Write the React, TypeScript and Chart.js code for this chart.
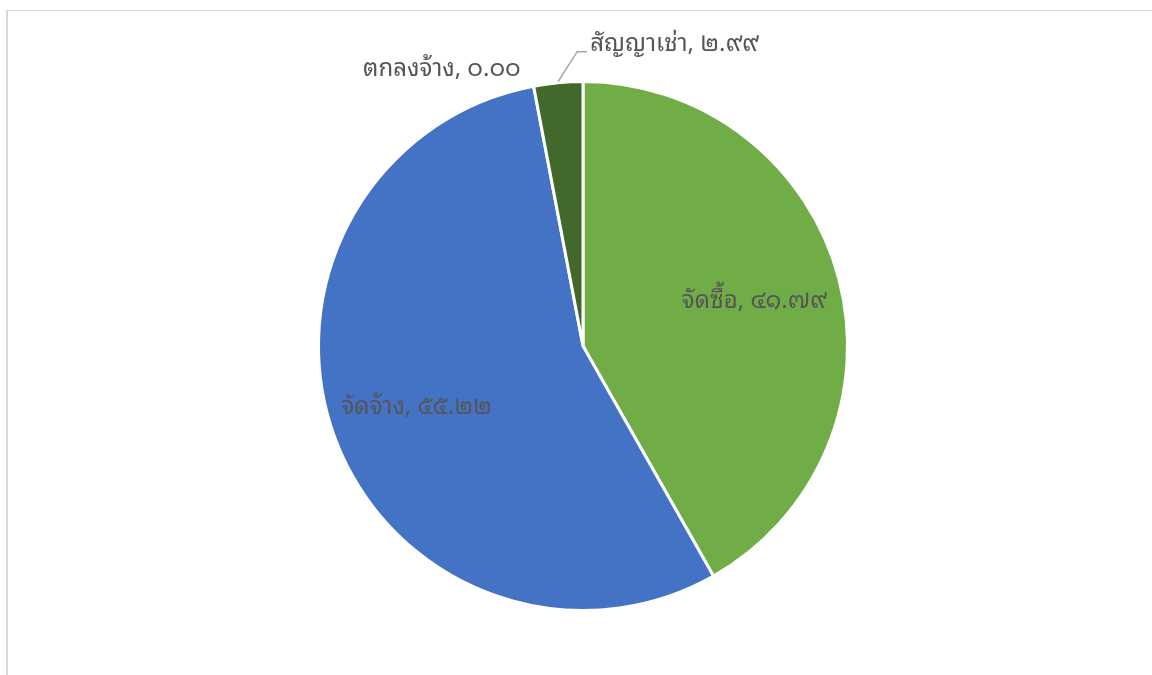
import React, { useEffect, useRef } from "react";
import { Chart, registerables } from "chart.js";

Chart.register(...registerables);

const categories = ["จัดซื้อ", "จัดจ้าง", "ตกลงจ้าง", "สัญญาเช่า"];
const values = [41.79, 55.22, 0.0, 2.99];
const colors = ["#70AD47", "#4472C4", "#A5A5A5", "#43682B"];

const thaiDigits = ["๐", "๑", "๒", "๓", "๔", "๕", "๖", "๗", "๘", "๙"];
const toThai = (v: number) => v.toFixed(2).replace(/[0-9]/g, (d) => thaiDigits[+d]);

const FONT =
  '24px "Noto Sans Thai Looped", Tahoma, Leelawadee, Loma, Garuda, "Noto Sans Thai", "Noto Sans", "DejaVu Sans", sans-serif';
const TEXT_COLOR = "#555555";

const labelPlugin = {
  id: "pieLabels",
  afterDatasetsDraw(chart: any) {
    const ctx = chart.ctx;
    const meta = chart.getDatasetMeta(0);
    ctx.save();
    ctx.font = FONT;
    ctx.fillStyle = TEXT_COLOR;
    meta.data.forEach((arc: any, i: number) => {
      const { x, y, startAngle, endAngle, outerRadius } = arc.getProps(
        ["x", "y", "startAngle", "endAngle", "outerRadius"],
        true
      );
      const mid = (startAngle + endAngle) / 2;
      const text = `${categories[i]}, ${toThai(values[i])}`;
      const frac = values[i] / values.reduce((a, b) => a + b, 0);
      if (frac > 0.1) {
        const r = outerRadius * 0.67;
        ctx.textAlign = "center";
        ctx.textBaseline = "middle";
        ctx.fillText(text, x + Math.cos(mid) * r, y + Math.sin(mid) * r);
      } else if (values[i] === 0) {
        const ex = x + Math.cos(mid) * outerRadius;
        const ey = y + Math.sin(mid) * outerRadius;
        ctx.textAlign = "right";
        ctx.textBaseline = "middle";
        ctx.fillText(text, ex - 13, ey - 17);
      } else {
        const ex = x + Math.cos(mid) * outerRadius;
        const ey = y + Math.sin(mid) * outerRadius;
        const bx = ex + 19;
        const by = ey - 31;
        ctx.strokeStyle = "#A6A6A6";
        ctx.lineWidth = 1.5;
        ctx.beginPath();
        ctx.moveTo(ex, ey - 1);
        ctx.lineTo(bx, by);
        ctx.lineTo(bx + 10, by);
        ctx.stroke();
        ctx.textAlign = "left";
        ctx.textBaseline = "middle";
        ctx.fillText(text, bx + 13, by - 7);
      }
    });
    ctx.restore();
  },
};

export default function App() {
  const ref = useRef<HTMLCanvasElement>(null);
  useEffect(() => {
    if (!ref.current) return;
    const chart = new Chart(ref.current, {
      type: "pie",
      data: {
        labels: categories,
        datasets: [
          {
            data: values,
            backgroundColor: colors,
            borderColor: "#FFFFFF",
            borderWidth: 3,
          },
        ],
      },
      options: {
        responsive: false,
        animation: false,
        layout: { padding: { left: 317, right: 303, top: 80, bottom: 63 } },
        plugins: {
          legend: { display: false },
          tooltip: { enabled: false },
          title: { display: false },
        },
      },
      plugins: [labelPlugin],
    });
    return () => chart.destroy();
  }, []);
  return (
    <div style={{ position: "fixed", left: 0, top: 0, width: 1152, height: 675, background: "#fff", overflow: "hidden" }}>
      <div
        style={{
          position: "absolute",
          left: 6,
          top: 10,
          width: 1300,
          height: 800,
          borderLeft: "2px solid #D9D9D9",
          borderTop: "1px solid #D9D9D9",
        }}
      />
      <canvas ref={ref} width={1152} height={675} style={{ position: "absolute", left: 0, top: 0 }} />
    </div>
  );
}
